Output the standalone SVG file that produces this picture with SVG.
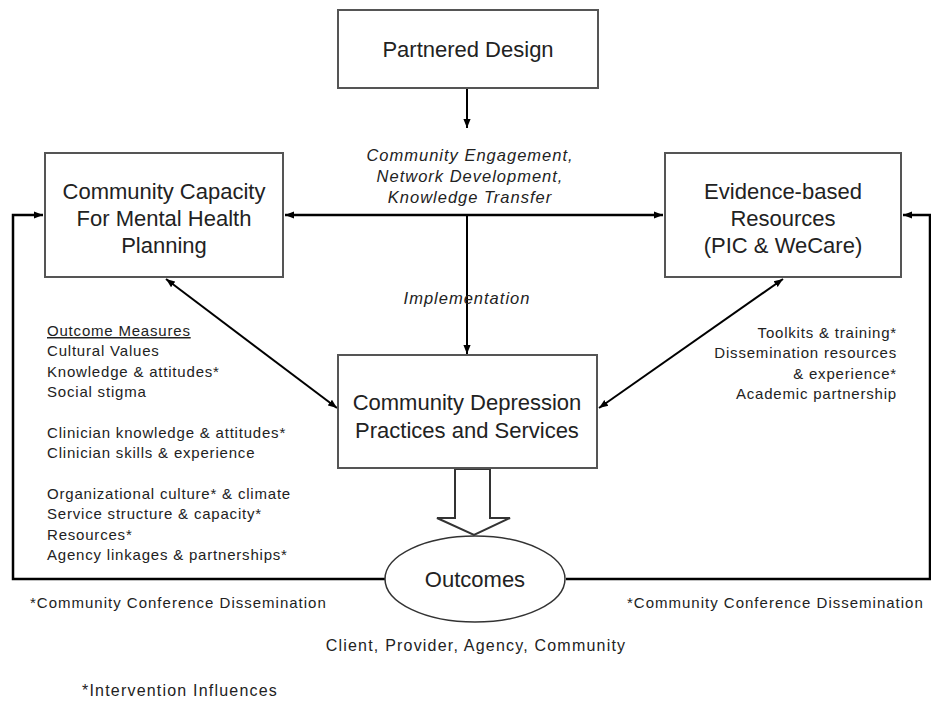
<svg xmlns="http://www.w3.org/2000/svg" width="931" height="703" viewBox="0 0 931 703">
<defs>
<marker id="ah" viewBox="0 0 10 10" refX="10" refY="5" markerWidth="9" markerHeight="9" markerUnits="userSpaceOnUse" orient="auto-start-reverse">
<path d="M0,1 L10,5 L0,9 z" fill="#000"/>
</marker>
<style>
.box{fill:#fff;stroke:#555;stroke-width:2}
.t{font-family:"Liberation Sans",Arial,sans-serif;fill:#222}
.big{font-size:22px;text-anchor:middle}
.it{font-size:16.5px;font-style:italic;text-anchor:middle;letter-spacing:1px}
.sm{font-size:15px;letter-spacing:0.8px}
.md{font-size:16px;letter-spacing:1.2px}
.ln{fill:none;stroke:#000;stroke-width:2.5}
.ln2{fill:none;stroke:#000;stroke-width:2}
</style>
</defs>
<rect width="931" height="703" fill="#fff"/>
<g id="connectors">
<line class="ln2" x1="467" y1="88" x2="467" y2="128" marker-end="url(#ah)"/>
<line class="ln" x1="285" y1="215" x2="663" y2="215" marker-start="url(#ah)" marker-end="url(#ah)"/>
<line class="ln2" x1="467" y1="215" x2="467" y2="354" marker-end="url(#ah)"/>
<line class="ln2" x1="166" y1="279" x2="337" y2="408" marker-start="url(#ah)" marker-end="url(#ah)"/>
<line class="ln2" x1="783" y1="279" x2="599" y2="408" marker-start="url(#ah)" marker-end="url(#ah)"/>
<polyline class="ln" points="386,579 13,579 13,215 43,215" marker-end="url(#ah)"/>
<polyline class="ln" points="566,579 930,579 930,215 903,215" marker-end="url(#ah)"/>
<polygon points="455,469 490,469 490,518 510,518 474,535 437,518 455,518" fill="#fff" stroke="#333" stroke-width="2"/>
</g>
<g id="partnered-design">
<rect class="box" x="338" y="10" width="260" height="78"/>
<text class="t big" x="468" y="57">Partnered Design</text>
</g>
<g id="community-capacity">
<rect class="box" x="45" y="153" width="238" height="124"/>
<text class="t big" x="164" y="199">Community Capacity</text>
<text class="t big" x="164" y="226">For Mental Health</text>
<text class="t big" x="164" y="253">Planning</text>
</g>
<g id="evidence-based">
<rect class="box" x="665" y="153" width="236" height="124"/>
<text class="t big" x="783" y="199">Evidence-based</text>
<text class="t big" x="783" y="226">Resources</text>
<text class="t big" x="783" y="253">(PIC &amp; WeCare)</text>
</g>
<g id="community-depression">
<rect class="box" x="338" y="355" width="259" height="113"/>
<text class="t big" x="467" y="410">Community Depression</text>
<text class="t big" x="467" y="438">Practices and Services</text>
</g>
<g id="outcomes">
<ellipse cx="475" cy="579" rx="90" ry="43" fill="#fff" stroke="#333" stroke-width="1.5"/>
<text class="t big" x="475" y="587">Outcomes</text>
</g>
<g id="labels">
<text class="t it" x="470" y="161">Community Engagement,</text>
<text class="t it" x="470" y="182">Network Development,</text>
<text class="t it" x="470" y="203">Knowledge Transfer</text>
<text class="t it" x="467" y="304">Implementation</text>
<g class="t sm">
<text x="47" y="336" text-decoration="underline">Outcome Measures</text>
<text x="47" y="356">Cultural Values</text>
<text x="47" y="377">Knowledge &amp; attitudes*</text>
<text x="47" y="397">Social stigma</text>
<text x="47" y="438">Clinician knowledge &amp; attitudes*</text>
<text x="47" y="458">Clinician skills &amp; experience</text>
<text x="47" y="499">Organizational culture* &amp; climate</text>
<text x="47" y="519">Service structure &amp; capacity*</text>
<text x="47" y="540">Resources*</text>
<text x="47" y="560">Agency linkages &amp; partnerships*</text>
</g>
<g class="t sm" text-anchor="end">
<text x="897" y="338">Toolkits &amp; training*</text>
<text x="897" y="358">Dissemination resources</text>
<text x="897" y="379">&amp; experience*</text>
<text x="897" y="399">Academic partnership</text>
</g>
<text class="t sm" x="30" y="608" style="letter-spacing:1px">*Community Conference Dissemination</text>
<text class="t sm" x="627" y="608" style="letter-spacing:1px">*Community Conference Dissemination</text>
<text class="t md" x="476" y="651" text-anchor="middle">Client, Provider, Agency, Community</text>
<text class="t md" x="82" y="696">*Intervention Influences</text>
</g>
</svg>
